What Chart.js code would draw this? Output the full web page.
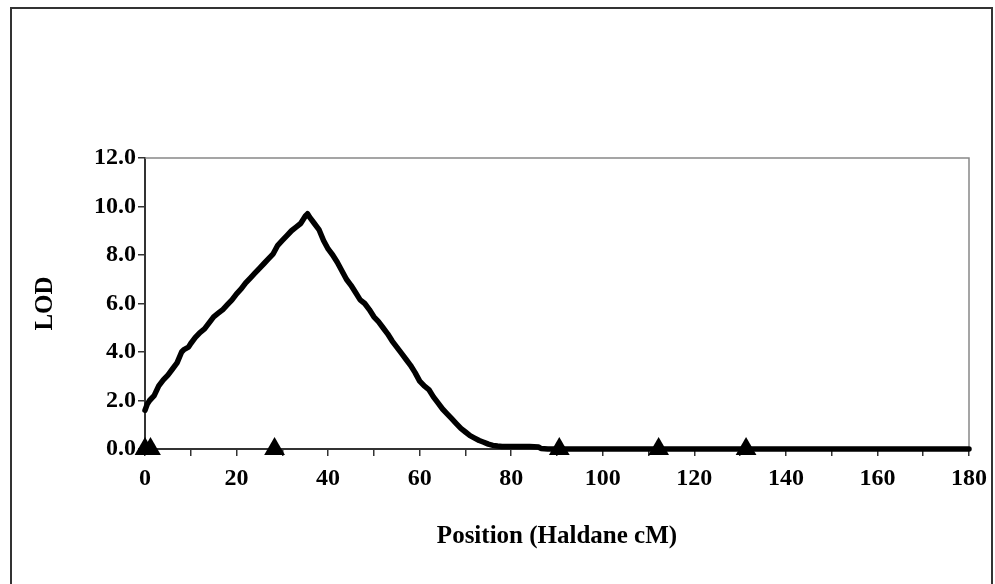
<!DOCTYPE html>
<html>
<head>
<meta charset="utf-8">
<script src="https://cdn.jsdelivr.net/npm/chart.js@4/dist/chart.umd.min.js"></script>
<style>
  html, body { margin: 0; padding: 0; background: #fff; }
  #wrap { width: 995px; height: 584px; position: relative; }
</style>
</head>
<body>
<div id="wrap"><canvas id="lod-chart"></canvas></div>
<script>
// ---- data ----
var lodPos = [0, 0.5, 1, 2, 3, 4, 5, 6, 7, 8, 8.5, 9.5, 10, 11, 12, 13, 14, 15, 16, 17,
  18, 19, 20, 21, 22, 23, 24, 25, 26, 27, 28, 29, 30, 31, 32, 33, 34, 35, 35.5, 36,
  37, 38, 39, 40, 41, 42, 43, 44, 45, 46, 47, 48, 49, 50, 51, 52, 53, 54, 55, 56,
  57, 58, 59, 60, 61, 62, 63, 64, 65, 66, 67, 68, 69, 70, 71, 72, 73, 74, 75, 76,
  77, 78, 80, 82, 84, 86, 86.5, 88, 90, 100, 120, 140, 160, 180];
var lodValue = [1.6, 1.85, 2.0, 2.2, 2.6, 2.85, 3.05, 3.3, 3.55, 4.0, 4.1, 4.2, 4.35, 4.6, 4.8, 4.95, 5.2, 5.45, 5.6, 5.75,
  5.95, 6.15, 6.4, 6.6, 6.85, 7.05, 7.25, 7.45, 7.65, 7.85, 8.05, 8.4, 8.6, 8.8, 9.0, 9.15, 9.3, 9.6, 9.7, 9.55,
  9.3, 9.05, 8.6, 8.25, 8.0, 7.7, 7.35, 7.0, 6.75, 6.45, 6.15, 6.0, 5.75, 5.45, 5.25, 5.0, 4.75, 4.45, 4.2, 3.95,
  3.7, 3.45, 3.15, 2.8, 2.6, 2.45, 2.15, 1.9, 1.65, 1.45, 1.25, 1.05, 0.85, 0.7, 0.55, 0.45, 0.35, 0.28, 0.2, 0.15,
  0.12, 0.1, 0.1, 0.1, 0.1, 0.08, 0.02, 0.0, 0.0, 0.0, 0.0, 0.0, 0.0, 0.0];
// marker positions (triangles on the axis)
var markerPos = [0, 1.2, 28.3, 90.5, 112.2, 131.3];
var markerValue = [0, 0, 0, 0, 0, 0];

var xTitle = 'Position (Haldane cM)';
var yTitle = 'LOD';

// ---- build points ----
var linePoints = [];
for (var i = 0; i < lodPos.length; i++) {
  linePoints.push({x: lodPos[i], y: lodValue[i]});
}
var markerPoints = [];
for (var j = 0; j < markerPos.length; j++) {
  markerPoints.push({x: markerPos[j], y: markerValue[j]});
}

var fontFace = "'Liberation Serif', 'Times New Roman', serif";
var tickFont = {family: fontFace, size: 24, weight: 'bold'};
var titleFont = {family: fontFace, size: 25, weight: 'bold'};

// outer frame + top/right plot border
var framePlugin = {
  id: 'frame',
  beforeDraw: function(chart) {
    var ctx = chart.ctx;
    ctx.save();
    ctx.fillStyle = '#fff';
    ctx.fillRect(0, 0, chart.width, chart.height);
    ctx.strokeStyle = '#333';
    ctx.lineWidth = 2;
    ctx.strokeRect(11, 8, 981, 590);
    ctx.restore();
  },
  beforeDatasetsDraw: function(chart) {
    var a = chart.chartArea, ctx = chart.ctx;
    ctx.save();
    ctx.strokeStyle = '#888';
    ctx.lineWidth = 1.5;
    ctx.beginPath();
    ctx.moveTo(a.left, a.top);
    ctx.lineTo(a.right, a.top);
    ctx.lineTo(a.right, a.bottom);
    ctx.stroke();
    ctx.restore();
  }
};

var chartCanvas = document.getElementById('lod-chart');
var lodChart = new Chart(chartCanvas, {
  type: 'scatter',
  data: {
    datasets: [{
      label: 'markers',
      data: markerPoints,
      pointStyle: 'triangle',
      pointRadius: 12,
      backgroundColor: '#000',
      borderColor: '#000',
      borderWidth: 0,
      showLine: false,
      clip: false
    }, {
      label: 'LOD',
      data: linePoints,
      showLine: true,
      borderColor: '#000',
      borderWidth: 5.5,
      borderJoinStyle: 'round',
      borderCapStyle: 'round',
      pointRadius: 0,
      tension: 0,
      clip: false
    }]
  },
  options: {
    responsive: true,
    maintainAspectRatio: false,
    animation: false,
    layout: {padding: {left: 20, top: 158, right: 24, bottom: 0}},
    plugins: {legend: {display: false}, tooltip: {enabled: false}},
    scales: {
      x: {
        type: 'linear',
        min: 0,
        max: 180,
        afterFit: function(scale) { scale.height = 135; },
        border: {display: true, color: '#333', width: 2},
        grid: {drawOnChartArea: false, drawTicks: true, tickLength: 7, color: '#333', lineWidth: 1.5},
        ticks: {
          stepSize: 10,
          autoSkip: false,
          maxRotation: 0,
          padding: 8,
          color: '#000',
          font: tickFont,
          callback: function(v) { return v % 20 === 0 ? String(v) : ''; }
        },
        title: {display: true, text: xTitle, color: '#000', font: titleFont, padding: {top: 0, bottom: 32}}
      },
      y: {
        min: 0,
        max: 12,
        afterFit: function(scale) { scale.width = 125; },
        border: {display: true, color: '#333', width: 2},
        grid: {drawOnChartArea: false, drawTicks: true, tickLength: 7, color: '#333', lineWidth: 1.5},
        ticks: {
          stepSize: 2,
          padding: 2,
          color: '#000',
          font: tickFont,
          callback: function(v) { return v.toFixed(1); }
        },
        title: {display: true, text: yTitle, color: '#000', font: titleFont, padding: {top: 11, bottom: 0}}
      }
    }
  },
  plugins: [framePlugin]
});
</script>
</body>
</html>
